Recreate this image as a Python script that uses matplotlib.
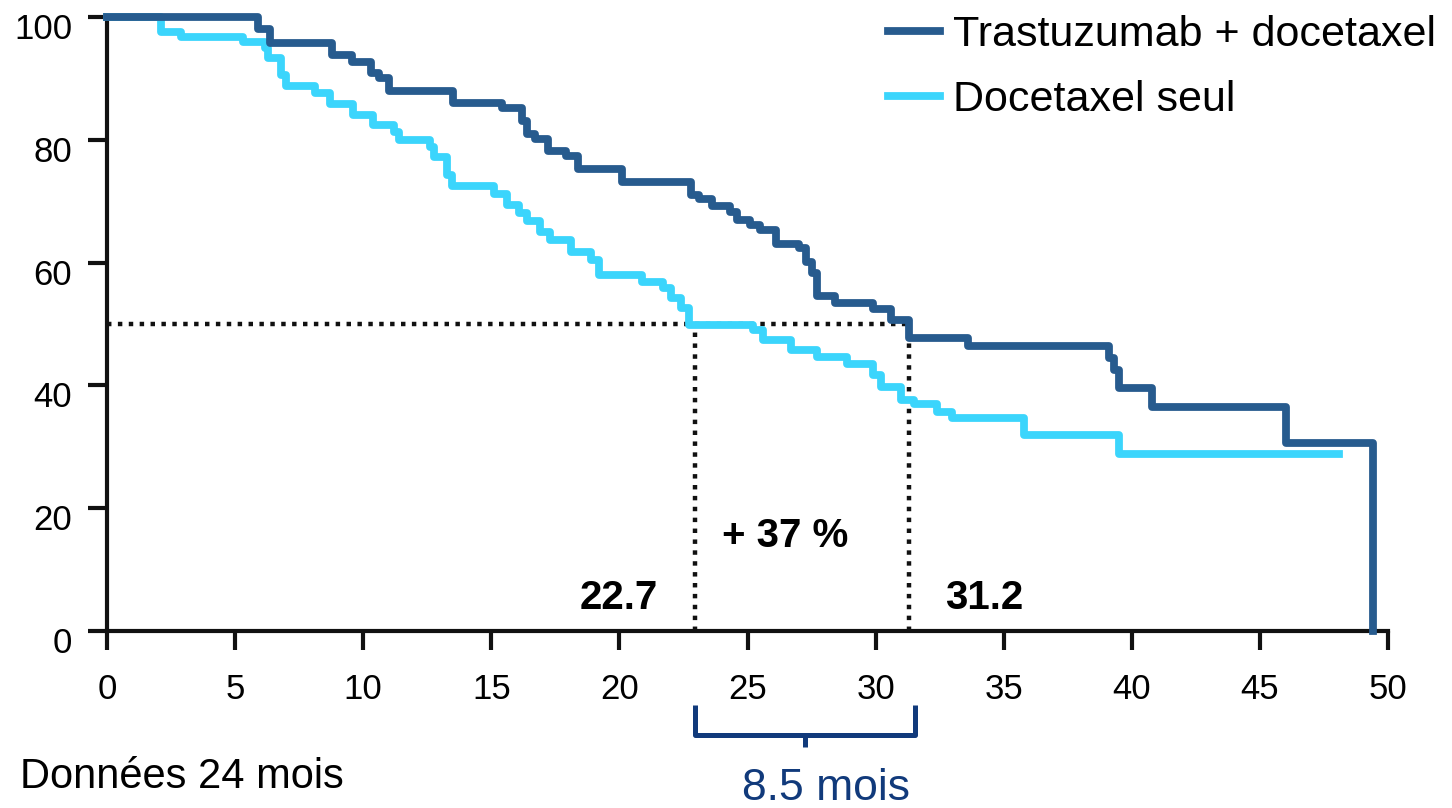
import matplotlib
matplotlib.use("Agg")
import matplotlib.pyplot as plt
from matplotlib.transforms import ScaledTranslation

plt.rcParams['font.family'] = ['Liberation Sans', 'DejaVu Sans']

# Kaplan-Meier steps (time in months, survival %)
trast_t = [0, 5.9, 6.36, 8.8, 9.55, 10.3, 10.6, 11.0, 13.5, 15.4, 16.2, 16.4, 16.7,
           17.2, 17.9, 18.4, 20.1, 22.8, 23.1, 23.6, 24.3, 24.6, 25.1, 25.5, 26.1,
           27.0, 27.3, 27.5, 27.7, 28.4, 29.9, 30.6, 31.3, 33.6, 39.1, 39.3, 39.5,
           40.8, 46.0, 49.4]
trast_v = [100, 98.0, 95.7, 93.8, 92.7, 90.8, 90.0, 88.0, 86.0, 85.1, 83.0, 81.0, 80.2,
           78.2, 77.4, 75.2, 73.2, 71.0, 70.3, 69.2, 68.3, 66.9, 66.1, 65.3, 63.0,
           62.4, 60.1, 58.3, 54.6, 53.4, 52.4, 50.6, 47.7, 46.4, 44.5, 42.5, 39.6,
           36.5, 30.6, 0]

doce_t = [0, 2.1, 2.9, 5.3, 6.17, 6.3, 6.8, 7.0, 8.1, 8.7, 9.6, 10.4, 11.2, 11.4,
          12.6, 12.75, 13.27, 13.47, 15.1, 15.6, 16.1, 16.4, 16.9, 17.3, 18.1, 18.9,
          19.2, 20.9, 21.7, 22.0, 22.4, 22.7, 25.2, 25.6, 26.7, 27.7, 28.9, 29.9,
          30.2, 31.0, 31.5, 32.4, 33.0, 35.8, 39.5, 48.1]
doce_v = [100, 97.6, 96.7, 95.9, 94.9, 93.3, 90.6, 88.7, 87.6, 85.9, 84.0, 82.4, 81.3, 80.0,
          78.9, 77.2, 74.3, 72.4, 71.2, 69.4, 68.1, 66.7, 65.0, 63.6, 61.8, 60.4,
          58.0, 56.9, 55.8, 54.2, 52.6, 49.8, 49.0, 47.4, 45.8, 44.7, 43.5, 41.7,
          39.8, 37.6, 37.0, 35.7, 34.7, 31.9, 28.8, 28.8]

labels = ["Trastuzumab + docetaxel", "Docetaxel seul"]
median_pos = [22.95, 31.3]      # where the dotted median lines fall
median_txt = ["22.7", "31.2"]
xticks = [0, 5, 10, 15, 20, 25, 30, 35, 40, 45, 50]
yticks = [0, 20, 40, 60, 80, 100]

dark = '#275b8e'
light = '#3bd5fc'
navy = '#113a7b'

fig = plt.figure(figsize=(14.52, 8.08), dpi=100)
ax = fig.add_axes([107/1452, 1-631/808, 1281/1452, 614/808])

ax.plot(doce_t, doce_v, drawstyle='steps-post', color=light, lw=5.6, clip_on=False,
        solid_joinstyle='round', label=labels[1], zorder=3)
ax.plot(trast_t, trast_v, drawstyle='steps-post', color=dark, lw=5.6, clip_on=False,
        solid_joinstyle='round', label=labels[0], zorder=4)

# median dotted lines
dots = dict(color='#111111', lw=3.2, linestyle=(0, (1, 1.45)), dash_capstyle='butt', zorder=2)
ax.plot([0, median_pos[1]], [50, 50], **dots)
for m in median_pos:
    ax.plot([m, m], [0, 50], **dots)

ax.text(21.5, 5.4, median_txt[0], ha='right', va='center', fontsize=29, fontweight='bold')
ax.text(32.7, 5.4, median_txt[1], ha='left', va='center', fontsize=29, fontweight='bold')
ax.text(24.0, 15.4, "+ 37 %", ha='left', va='center', fontsize=29, fontweight='bold')

ax.set_xlim(0, 50)
ax.set_ylim(0, 100)
ax.set_xticks(xticks)
ax.set_yticks(yticks)
for s in ['top', 'right']:
    ax.spines[s].set_visible(False)
for s in ['left', 'bottom']:
    ax.spines[s].set_linewidth(3)
    ax.spines[s].set_color('#111111')
ax.tick_params(axis='both', length=14, width=3, color='#111111', labelsize=25)
ax.tick_params(axis='x', pad=16)
ax.tick_params(axis='y', pad=11)
# y labels sit a bit below their ticks in the original
shift = ScaledTranslation(0, -0.09, fig.dpi_scale_trans)
for lab in ax.get_yticklabels():
    lab.set_transform(lab.get_transform() + shift)

# bracket under the axis
br = dict(color=navy, lw=3.6, clip_on=False, solid_capstyle='butt')
bx0, bx1 = median_pos[0], 31.55
ax.plot([bx0, bx0, bx1, bx1], [-12, -16.9, -16.9, -12], **br)
ax.plot([(bx0 + bx1) / 2] * 2, [-16.9, -18.9], **br)

fig.text(826/1452, 1-788/808, "8.5 mois", ha='center', va='center', fontsize=32, color=navy)
fig.text(20/1452, 1-777/808, "Données 24 mois", ha='left', va='center', fontsize=30)

h, l = ax.get_legend_handles_labels()
leg = ax.legend(h[::-1], l[::-1], loc='upper left', bbox_to_anchor=(888/1452, 1-15/808),
                bbox_transform=fig.transFigure, frameon=False, fontsize=31,
                handlelength=1.2, handletextpad=0.3, labelspacing=0.58,
                borderpad=0, borderaxespad=0)

fig.savefig('out.png', dpi=100)
